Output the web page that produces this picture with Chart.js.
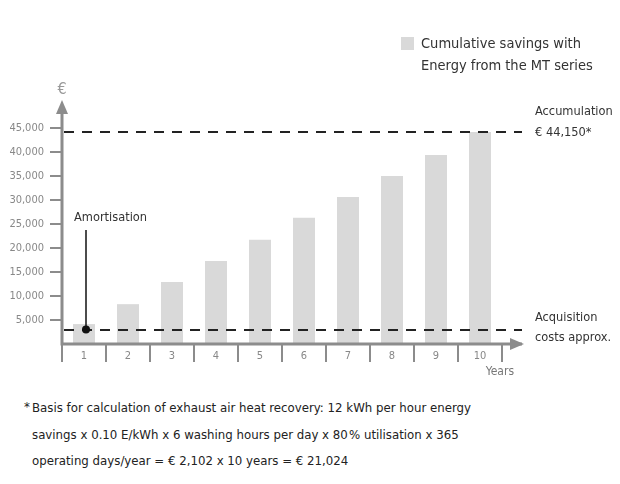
<!DOCTYPE html>
<html>
<head>
<meta charset="utf-8">
<script src="https://cdn.jsdelivr.net/npm/chart.js@4"></script>
<style>
  body { margin: 0; background: #fff; }
  #wrap { position: relative; width: 620px; height: 484px; }
  #chart-box { position: absolute; left: 0; top: 0; width: 620px; height: 380px; }
  #note {
    position: absolute; left: 24px; top: 395px; width: 590px;
    font-family: "Liberation Sans Narrow", "DejaVu Sans Condensed", Roboto, sans-serif;
    font-size: 13.1px; line-height: 26.5px; color: #222;
  }
  #note .star { position: absolute; left: 0; top: -1px; }
  #note .txt { padding-left: 8px; }
</style>
</head>
<body>
<div id="wrap">
  <div id="chart-box"><canvas id="savings-chart" width="620" height="380"></canvas></div>
  <div id="note"><span class="star">*</span><div class="txt">Basis for calculation of exhaust air heat recovery: 12 kWh per hour energy<br>savings x 0.10 E/kWh x 6 washing hours per day x 80&#8202;% utilisation x 365<br>operating days/year = € 2,102 x 10 years = € 21,024</div></div>
</div>
<script>
const years = ['1', '2', '3', '4', '5', '6', '7', '8', '9', '10'];
const savings = [4150, 8300, 12900, 17300, 21700, 26300, 30600, 35000, 39400, 44150];
const accumulation = 44150;
const acquisitionCost = 3000;
const yTicks = [5000, 10000, 15000, 20000, 25000, 30000, 35000, 40000, 45000];

const FONT = '"Liberation Sans Narrow", "DejaVu Sans Condensed", Roboto, sans-serif';
const axisGrey = '#8c8c8c';

const decorations = {
    id: 'decorations',
    afterDraw(chart) {
        const ctx = chart.ctx;
        const x = chart.scales.x;
        const y = chart.scales.y;
        const left = chart.chartArea.left;
        const bottom = y.getPixelForValue(0);
        const axisEnd = chart.chartArea.right + 20;
        const topY = chart.chartArea.top - 2;

        ctx.save();

        // dashed reference lines
        ctx.strokeStyle = '#222';
        ctx.lineWidth = 2;
        ctx.setLineDash([10, 8]);
        [accumulation, acquisitionCost].forEach(v => {
            const py = Math.round(y.getPixelForValue(v));
            ctx.beginPath();
            ctx.moveTo(left + 2, py);
            ctx.lineTo(axisEnd, py);
            ctx.stroke();
        });
        ctx.setLineDash([]);

        // axes with arrows
        ctx.strokeStyle = axisGrey;
        ctx.fillStyle = axisGrey;
        ctx.lineWidth = 3;
        ctx.beginPath();
        ctx.moveTo(left, bottom + 1.5);
        ctx.lineTo(left, topY + 10);
        ctx.moveTo(left - 1.5, bottom);
        ctx.lineTo(axisEnd, bottom);
        ctx.stroke();
        ctx.beginPath();
        ctx.moveTo(left, topY - 2);
        ctx.lineTo(left - 6, topY + 12);
        ctx.lineTo(left + 6, topY + 12);
        ctx.closePath();
        ctx.fill();
        ctx.beginPath();
        ctx.moveTo(axisEnd + 2, bottom);
        ctx.lineTo(axisEnd - 12, bottom - 6);
        ctx.lineTo(axisEnd - 12, bottom + 6);
        ctx.closePath();
        ctx.fill();

        // amortisation marker
        const ax = x.getPixelForValue(0) + 2;
        const ay = y.getPixelForValue(acquisitionCost);
        ctx.strokeStyle = '#111';
        ctx.fillStyle = '#111';
        ctx.lineWidth = 1.5;
        ctx.beginPath();
        ctx.moveTo(ax, ay);
        ctx.lineTo(ax, 230);
        ctx.stroke();
        ctx.beginPath();
        ctx.arc(ax, ay, 4, 0, Math.PI * 2);
        ctx.fill();

        // texts
        ctx.textBaseline = 'middle';
        ctx.fillStyle = '#333';
        ctx.font = '12.7px ' + FONT;
        ctx.textAlign = 'left';
        ctx.fillText('Amortisation', 74, 218);
        ctx.fillText('Accumulation', 535, 112);
        ctx.fillText('€ 44,150*', 535, 133);
        ctx.fillText('Acquisition', 535, 318);
        ctx.fillText('costs approx.', 535, 338);

        ctx.fillStyle = '#777';
        ctx.textAlign = 'right';
        ctx.font = '12px ' + FONT;
        ctx.fillText('Years', 514, 372);
        ctx.textAlign = 'center';
        ctx.fillStyle = '#999';
        ctx.font = '16px ' + FONT;
        ctx.fillText('€', left, 90);

        // legend
        ctx.fillStyle = '#d9d9d9';
        ctx.fillRect(401, 37, 13, 13);
        ctx.fillStyle = '#333';
        ctx.textAlign = 'left';
        ctx.font = '14.5px ' + FONT;
        ctx.fillText('Cumulative savings with', 421, 44);
        ctx.fillText('Energy from the MT series', 421, 66);

        ctx.restore();
    }
};

new Chart(document.getElementById('savings-chart'), {
    type: 'bar',
    data: {
        labels: years,
        datasets: [{
            label: 'Cumulative savings with Energy from the MT series',
            data: savings,
            backgroundColor: '#d9d9d9',
            categoryPercentage: 0.5,
            barPercentage: 1
        }]
    },
    options: {
        responsive: false,
        animation: false,
        layout: { padding: { top: 104, right: 118, left: 0, bottom: 0 } },
        plugins: {
            legend: { display: false },
            tooltip: { enabled: false }
        },
        scales: {
            x: {
                afterFit: s => { s.height = 36; },
                border: { display: false },
                grid: {
                    offset: true,
                    drawOnChartArea: false,
                    tickLength: 18,
                    lineWidth: 2,
                    color: axisGrey
                },
                ticks: {
                    padding: -12,
                    color: '#888',
                    font: { family: FONT, size: 11 }
                }
            },
            y: {
                min: 0,
                max: 50000,
                afterFit: s => { s.width = 62; },
                afterBuildTicks: s => { s.ticks = yTicks.map(v => ({ value: v })); },
                border: { display: false },
                grid: {
                    drawOnChartArea: false,
                    tickLength: 12,
                    lineWidth: 2,
                    color: axisGrey
                },
                ticks: {
                    padding: 6,
                    color: '#888',
                    font: { family: FONT, size: 11 },
                    callback: v => v.toLocaleString('en-US')
                }
            }
        }
    },
    plugins: [decorations]
});
</script>
</body>
</html>
